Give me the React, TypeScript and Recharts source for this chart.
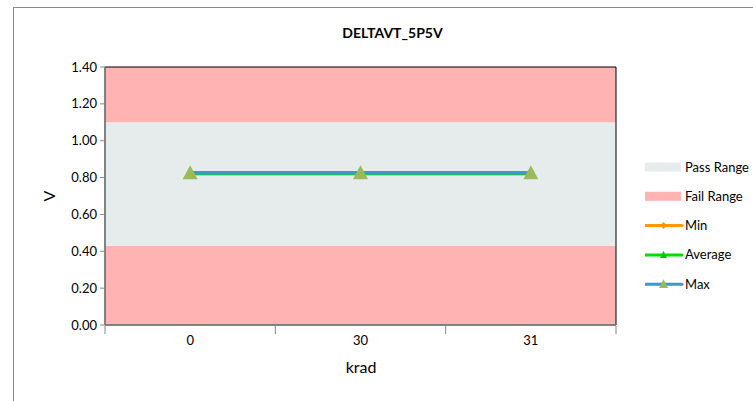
import React from "react";
import {
  ComposedChart,
  Line,
  XAxis,
  YAxis,
  ReferenceArea,
} from "recharts";

// categories (krad) and the three measured series
const categories = ["0", "30", "31"];
const minValues = [0.82, 0.82, 0.82];
const avgValues = [0.822, 0.822, 0.822];
const maxValues = [0.826, 0.826, 0.826];

// pass window limits, and the y axis ticks
const passLimits = [0.43, 1.1];
const yTicks = [0, 0.2, 0.4, 0.6, 0.8, 1.0, 1.2, 1.4];

const W = 753;
const H = 401;
const MARGIN = { top: 67, right: 137, bottom: 46, left: 13 };
const Y_AXIS_W = 92;
const PLOT_W = W - MARGIN.left - MARGIN.right - Y_AXIS_W;
const FONT = "Lato, 'Open Sans', sans-serif";

const data = categories.map((c, i) => ({
  krad: c,
  min: minValues[i],
  avg: avgValues[i],
  max: maxValues[i],
}));

const legendRows = [
  { name: "Pass Range", kind: "rect", color: "#E6EBEB" },
  { name: "Fail Range", kind: "rect", color: "#FFB3B3" },
  { name: "Min", kind: "line", color: "#FF9A00", marker: "diamond", mcolor: "#FF9A00" },
  { name: "Average", kind: "line", color: "#00DD00", marker: "tri", mcolor: "#00CC00" },
  { name: "Max", kind: "line", color: "#3F97CE", marker: "tri", mcolor: "#9BBB59" },
];

const Triangle = ({ cx, cy, size, fill }: any) => {
  if (cx == null || cy == null) return null;
  const h = size * 0.87;
  return (
    <polygon
      points={`${cx},${cy - h / 2 - 1} ${cx - size / 2},${cy + h / 2} ${cx + size / 2},${cy + h / 2}`}
      fill={fill}
    />
  );
};

const Diamond = ({ cx, cy, size, fill }: any) => {
  if (cx == null || cy == null) return null;
  const s = size / 2;
  return (
    <polygon
      points={`${cx},${cy - s} ${cx + s},${cy} ${cx},${cy + s} ${cx - s},${cy}`}
      fill={fill}
    />
  );
};

const XTick = (props: any) => {
  const { x, y, payload, index } = props;
  const band = PLOT_W / categories.length;
  const axisY = y - 3;
  return (
    <g>
      <line x1={x - band / 2} x2={x - band / 2} y1={axisY - 4} y2={axisY + 4} stroke="#868686" />
      {index === categories.length - 1 && (
        <line x1={x + band / 2} x2={x + band / 2} y1={axisY - 4} y2={axisY + 4} stroke="#868686" />
      )}
      <text x={x} y={axisY + 15} textAnchor="middle" fontSize={13} fill="#000" fontFamily={FONT}>
        {payload.value}
      </text>
    </g>
  );
};

const LegendBox = () => (
  <svg width={110} height={140}>
    {legendRows.map((r, i) => {
      const cy = 12 + i * 29.3;
      return (
        <g key={r.name}>
          {r.kind === "rect" ? (
            <rect x={0} y={cy - 4.5} width={36} height={9} fill={r.color} />
          ) : (
            <g>
              <line x1={0} x2={37} y1={cy} y2={cy} stroke={r.color} strokeWidth={3} strokeLinecap="round" />
              {r.marker === "diamond" ? (
                <Diamond cx={18.5} cy={cy} size={7} fill={r.mcolor} />
              ) : (
                <Triangle cx={18.5} cy={cy} size={r.name === "Max" ? 9 : 7} fill={r.mcolor} />
              )}
            </g>
          )}
          <text x={40} y={cy + 4.5} fontSize={13} fill="#000" fontFamily={FONT}>
            {r.name}
          </text>
        </g>
      );
    })}
  </svg>
);

export default function App() {
  return (
    <div
      style={{
        position: "absolute",
        left: 0,
        top: 0,
        width: W,
        height: H,
        overflow: "hidden",
        background: "#fff",
      }}
    >
      <div
        style={{
          position: "absolute",
          left: 13,
          top: 7,
          width: 800,
          height: 500,
          border: "1px solid #8a8a8a",
        }}
      />
      <div
        style={{
          position: "absolute",
          left: 0,
          top: 24,
          width: 785,
          textAlign: "center",
          fontFamily: FONT,
          fontWeight: 700,
          fontSize: 14,
        }}
      >
        DELTAVT_5P5V
      </div>
      <div style={{ position: "absolute", left: 0, top: 0 }}>
        <ComposedChart width={W} height={H} data={data} margin={MARGIN}>
          <ReferenceArea y1={0} y2={passLimits[0]} fill="#FFB3B3" fillOpacity={1} stroke="none" ifOverflow="visible" />
          <ReferenceArea y1={passLimits[0]} y2={passLimits[1]} fill="#E6EBEB" fillOpacity={1} stroke="none" ifOverflow="visible" />
          <ReferenceArea y1={passLimits[1]} y2={1.4} fill="#FFB3B3" fillOpacity={1} stroke="none" ifOverflow="visible" />
          <ReferenceArea y1={0} y2={1.4} fill="none" stroke="#000" strokeWidth={1} ifOverflow="visible" />
          <XAxis
            dataKey="krad"
            scale="band"
            tickLine={false}
            axisLine={{ stroke: "#868686", strokeWidth: 1.5 }}
            tick={<XTick />}
            height={30}
            interval={0}
            label={{
              content: () => (
                <text x={361} y={373} textAnchor="middle" fontSize={16} fontFamily={FONT} fill="#000">
                  krad
                </text>
              ),
            }}
          />
          <YAxis
            domain={[0, 1.4]}
            ticks={yTicks}
            width={Y_AXIS_W}
            tickFormatter={(v: number) => v.toFixed(2)}
            tick={{ fontSize: 13, fill: "#000", fontFamily: FONT }}
            tickSize={5}
            tickLine={{ stroke: "#868686" }}
            axisLine={{ stroke: "#868686", strokeWidth: 1.5 }}
            tickMargin={3}
            label={{
              content: () => (
                <text
                  x={55}
                  y={196}
                  textAnchor="middle"
                  fontSize={16}
                  fontFamily={FONT}
                  fill="#000"
                  transform="rotate(-90 55 196)"
                >
                  V
                </text>
              ),
            }}
          />
          <Line
            dataKey="min"
            name="Min"
            stroke="#FF9A00"
            strokeWidth={3}
            isAnimationActive={false}
            dot={(p: any) => <Diamond key={`mn${p.index}`} cx={p.cx} cy={p.cy} size={7} fill="#FF9A00" />}
          />
          <Line
            dataKey="avg"
            name="Average"
            stroke="#00DD00"
            strokeWidth={3}
            isAnimationActive={false}
            dot={(p: any) => <Triangle key={`av${p.index}`} cx={p.cx} cy={p.cy} size={7} fill="#00CC00" />}
          />
          <Line
            dataKey="max"
            name="Max"
            stroke="#3F97CE"
            strokeWidth={3.5}
            isAnimationActive={false}
            dot={(p: any) => <Triangle key={`mx${p.index}`} cx={p.cx} cy={p.cy} size={15} fill="#9BBB59" />}
          />
        </ComposedChart>
      </div>
      <div style={{ position: "absolute", left: 645, top: 155 }}>
        <LegendBox />
      </div>
    </div>
  );
}
